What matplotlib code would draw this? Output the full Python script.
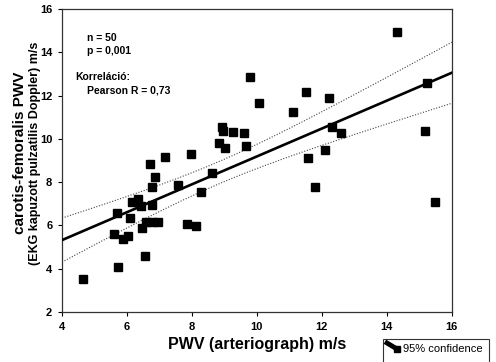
import numpy as np
import matplotlib
matplotlib.use("Agg")
import matplotlib.pyplot as plt
from matplotlib.lines import Line2D
from matplotlib.patches import Rectangle

plt.rcParams['font.family'] = ['Liberation Sans', 'DejaVu Sans']

# PWV arteriograph (x) vs carotis-femoralis PWV (y)
pwv_arterio = [4.66, 5.71, 6.55, 5.60, 5.87, 6.02, 6.45, 6.60, 6.78, 6.96,
               6.09, 5.70, 7.84, 8.12, 6.16, 6.33, 6.42, 6.76, 8.91, 8.96,
               9.25, 9.61, 8.83, 9.02, 9.66, 7.17, 7.97, 6.71, 6.86, 6.76,
               7.58, 8.62, 8.27, 9.78, 10.06, 11.52, 12.22, 11.10, 12.11, 11.58,
               11.78, 14.30, 15.22, 12.32, 12.58, 15.16, 15.48]
pwv_cf = [3.54, 4.07, 4.59, 5.60, 5.37, 5.52, 5.90, 6.17, 6.17, 6.17,
          6.34, 6.57, 6.06, 5.98, 7.08, 7.23, 6.92, 6.95, 10.55, 10.38,
          10.32, 10.27, 9.81, 9.58, 9.69, 9.18, 9.28, 8.84, 8.24, 7.77,
          7.87, 8.42, 7.54, 12.86, 11.66, 12.17, 11.90, 11.25, 9.47, 9.10,
          7.76, 14.93, 12.57, 10.55, 10.27, 10.35, 7.08]

x_ticks = [4, 6, 8, 10, 12, 14, 16]
y_ticks = [2, 4, 6, 8, 10, 12, 14, 16]

stats_lines = ["n = 50", "p = 0,001"]
corr_title = "Korreláció:"
corr_value = "Pearson R = 0,73"


# REGRESSION + 95% CONFIDENCE BAND
x = np.array(pwv_arterio)
y = np.array(pwv_cf)
n = len(x)
slope, intercept = np.polyfit(x, y, 1)
resid = y - (intercept + slope * x)
s = np.sqrt(np.sum(resid ** 2) / (n - 2))
sxx = np.sum((x - x.mean()) ** 2)
xx = np.linspace(4, 16, 200)
yy = intercept + slope * xx
hw = 2.01 * s * np.sqrt(1.0 / n + (xx - x.mean()) ** 2 / sxx)


fig = plt.figure(figsize=(4.96, 3.62), dpi=100)
ax = fig.add_axes([0.125, 0.138, 0.786, 0.837])

ax.plot(xx, yy, color='black', lw=1.9, zorder=3)
ax.plot(xx, yy + hw, color='#444444', lw=0.8, ls=(0, (1, 1.5)), zorder=2)
ax.plot(xx, yy - hw, color='#444444', lw=0.8, ls=(0, (1, 1.5)), zorder=2)
ax.plot(x, y, 's', color='black', ms=5.2, zorder=4)

ax.set_xlim(4, 16)
ax.set_ylim(2, 16)
ax.set_xticks(x_ticks)
ax.set_yticks(y_ticks)
ax.tick_params(direction='out', length=3, width=0.8, labelsize=8, pad=4)
for lab in ax.get_xticklabels() + ax.get_yticklabels():
    lab.set_fontweight('bold')
for sp in ax.spines.values():
    sp.set_color('#333333')
    sp.set_linewidth(0.9)

ax.set_xlabel("PWV (arteriograph) m/s", fontsize=11.5, fontweight='bold', labelpad=4)

# two line y label, different sizes
fig.text(0.040, 0.577, "carotis-femoralis PWV", rotation=90, fontsize=11,
         fontweight='bold', ha='center', va='center')
fig.text(0.071, 0.577, "(EKG kapuzott pulzatilis Doppler) m/s", rotation=90,
         fontsize=9, fontweight='bold', ha='center', va='center')

# stats text
ax.text(0.065, 0.905, stats_lines[0], transform=ax.transAxes, fontsize=7.5, fontweight='bold', va='center')
ax.text(0.065, 0.862, stats_lines[1], transform=ax.transAxes, fontsize=7.5, fontweight='bold', va='center')
ax.text(0.033, 0.775, corr_title, transform=ax.transAxes, fontsize=7.5, fontweight='bold', va='center')
ax.text(0.065, 0.732, corr_value, transform=ax.transAxes, fontsize=7.5, fontweight='bold', va='center')

# legend box, cut off at the bottom edge like the original
fig.patches.append(Rectangle((383 / 496, -0.05), 106 / 496, 0.05 + (362 - 339) / 362,
                             transform=fig.transFigure, fill=False, edgecolor='#333333', lw=0.8))
fig.lines.append(Line2D([387 / 496, 397 / 496], [1 - 343 / 362, 1 - 349 / 362],
                        transform=fig.transFigure, color='black', lw=3.5))
fig.lines.append(Line2D([397 / 496], [1 - 349 / 362], transform=fig.transFigure,
                        marker='s', color='black', ms=5))
fig.text(403 / 496, 1 - 349 / 362, "95% confidence", fontsize=8, va='center')

fig.savefig("out.png", dpi=100)
